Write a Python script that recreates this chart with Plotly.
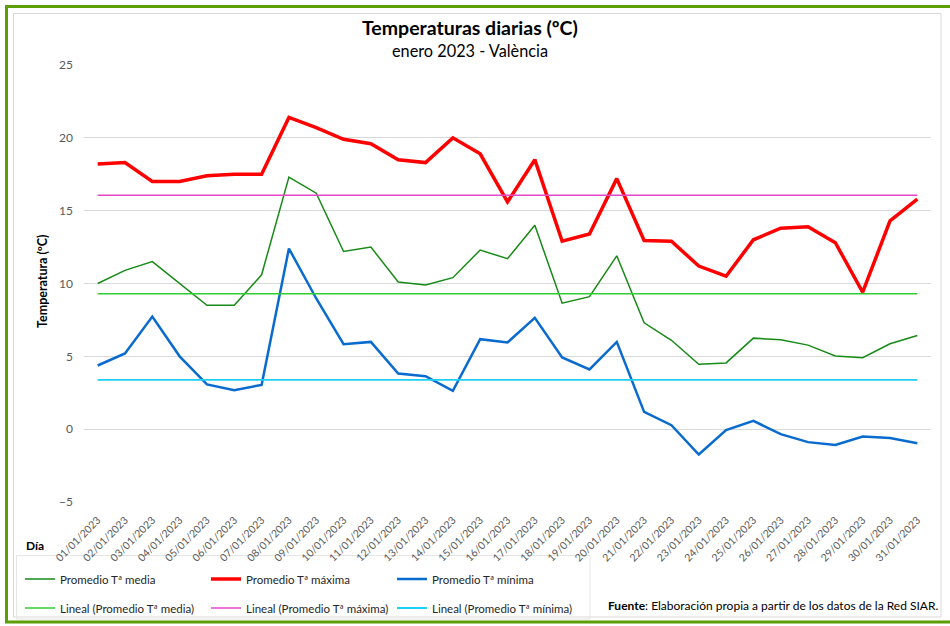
import plotly.graph_objects as go

dias = [f"{d:02d}/01/2023" for d in range(1, 32)]

t_media = [10.0, 10.9, 11.5, 10.0, 8.5, 8.5, 10.6, 17.3, 16.2, 12.2, 12.5, 10.1, 9.9, 10.4, 12.3, 11.7,
           14.0, 8.65, 9.1, 11.9, 7.3, 6.1, 4.46, 4.55, 6.25, 6.13, 5.77, 5.03, 4.9, 5.86, 6.43]
t_maxima = [18.2, 18.3, 17.0, 17.0, 17.4, 17.5, 17.5, 21.4, 20.7, 19.9, 19.6, 18.5, 18.3, 20.0, 18.9, 15.6,
            18.5, 12.9, 13.4, 17.2, 12.95, 12.9, 11.2, 10.5, 13.0, 13.8, 13.9, 12.8, 9.4, 14.3, 15.8]
t_minima = [4.37, 5.2, 7.73, 5.0, 3.07, 2.68, 3.04, 12.4, 8.97, 5.83, 5.99, 3.82, 3.64, 2.63, 6.18, 5.95,
            7.64, 4.92, 4.1, 5.99, 1.19, 0.27, -1.74, -0.07, 0.57, -0.34, -0.89, -1.08, -0.5, -0.6, -0.96]
lineal_media = 9.3
lineal_maxima = 16.06
lineal_minima = 3.38

FONT = "Lato, Carlito, Calibri, Open Sans, Arial, sans-serif"

W, H = 950, 626
L, R, T, B = 84, 19, 65, 124
PW, PH = W - L - R, H - T - B


def xp(px):
    return (px - L) / PW


def yp(py):
    return (H - B - py) / PH


fig = go.Figure()
fig.add_trace(go.Scatter(x=dias, y=t_media, mode="lines", name="Promedio Tª media",
                         line=dict(color="#178a17", width=1.5), legend="legend"))
fig.add_trace(go.Scatter(x=dias, y=t_maxima, mode="lines", name="Promedio Tª máxima",
                         line=dict(color="#ff0000", width=3.5), legend="legend"))
fig.add_trace(go.Scatter(x=dias, y=t_minima, mode="lines", name="Promedio Tª mínima",
                         line=dict(color="#0a6bcf", width=2.5), legend="legend"))
fig.add_trace(go.Scatter(x=dias, y=[lineal_media] * len(dias), mode="lines",
                         name="Lineal (Promedio Tª media)", line=dict(color="#33cc33", width=1.5),
                         legend="legend2"))
fig.add_trace(go.Scatter(x=dias, y=[lineal_maxima] * len(dias), mode="lines",
                         name="Lineal (Promedio Tª máxima)", line=dict(color="#e646c8", width=1.5),
                         legend="legend2"))
fig.add_trace(go.Scatter(x=dias, y=[lineal_minima] * len(dias), mode="lines",
                         name="Lineal (Promedio Tª mínima)", line=dict(color="#1ccff6", width=1.8),
                         legend="legend2"))

leg_common = dict(orientation="h", xanchor="left", yanchor="middle",
                  entrywidth=141, entrywidthmode="pixels",
                  font=dict(size=11.5, color="#262626", family=FONT),
                  bgcolor="rgba(0,0,0,0)", borderwidth=0, itemwidth=30)

fig.update_layout(
    width=W, height=H,
    margin=dict(l=L, r=R, t=T, b=B, autoexpand=False),
    paper_bgcolor="white", plot_bgcolor="white",
    font=dict(family=FONT, color="#404040"),
    showlegend=True,
    legend=dict(x=xp(20), y=yp(579), **leg_common),
    legend2=dict(x=xp(20), y=yp(608), **leg_common),
    xaxis=dict(type="category", range=[-0.5, 30.5], tickangle=-45, showgrid=False,
               showline=False, ticks="", automargin=False, ticklabelstandoff=9,
               tickfont=dict(size=10.5, color="#595959", family=FONT)),
    yaxis=dict(range=[-5, 25], dtick=5, showgrid=True, gridcolor="#d9d9d9", gridwidth=1,
               zeroline=False, showline=False, ticks="", ticklabelstandoff=10, automargin=False,
               tickfont=dict(size=12, color="#595959", family=FONT)),
    annotations=[
        dict(text="<b>Temperaturas diarias (ºC)</b>", xref="paper", yref="paper",
             x=xp(470), y=yp(27), showarrow=False, xanchor="center", yanchor="middle",
             font=dict(size=19.5, color="#000000", family=FONT)),
        dict(text="enero 2023 - València", xref="paper", yref="paper",
             x=xp(470), y=yp(50), showarrow=False, xanchor="center", yanchor="middle",
             font=dict(size=16.3, color="#000000", family=FONT)),
        dict(text="<b>Temperatura (ºC)</b>", xref="paper", yref="paper",
             x=xp(42), y=yp(281), showarrow=False, textangle=-90, xanchor="center", yanchor="middle",
             font=dict(size=12.5, color="#000000", family=FONT)),
        dict(text="<b>Día</b>", xref="paper", yref="paper",
             x=xp(35), y=yp(545), showarrow=False, xanchor="center", yanchor="middle",
             font=dict(size=12, color="#000000", family=FONT)),
        dict(text="<b>Fuente</b>: Elaboración propia a partir de los datos de la Red SIAR.",
             xref="paper", yref="paper", x=xp(940), y=yp(605), showarrow=False,
             xanchor="right", yanchor="middle",
             font=dict(size=12, color="#000000", family=FONT)),
    ],
    shapes=[
        dict(type="rect", xref="paper", yref="paper", x0=xp(6.5), y0=yp(6.5), x1=xp(965), y1=yp(622),
             line=dict(color="#5c9e06", width=3), layer="below"),
        dict(type="rect", xref="paper", yref="paper", x0=xp(13.5), y0=yp(13.5), x1=xp(941), y1=yp(617),
             line=dict(color="#d9d9d9", width=1), layer="below"),
        dict(type="rect", xref="paper", yref="paper", x0=xp(16.5), y0=yp(555.5), x1=xp(590), y1=yp(619),
             line=dict(color="#e6e6e6", width=1), layer="below"),
    ],
)

fig.write_html("out.html", config={"displayModeBar": False},
               post_script="document.body.style.margin='0';document.body.style.overflow='hidden';")
